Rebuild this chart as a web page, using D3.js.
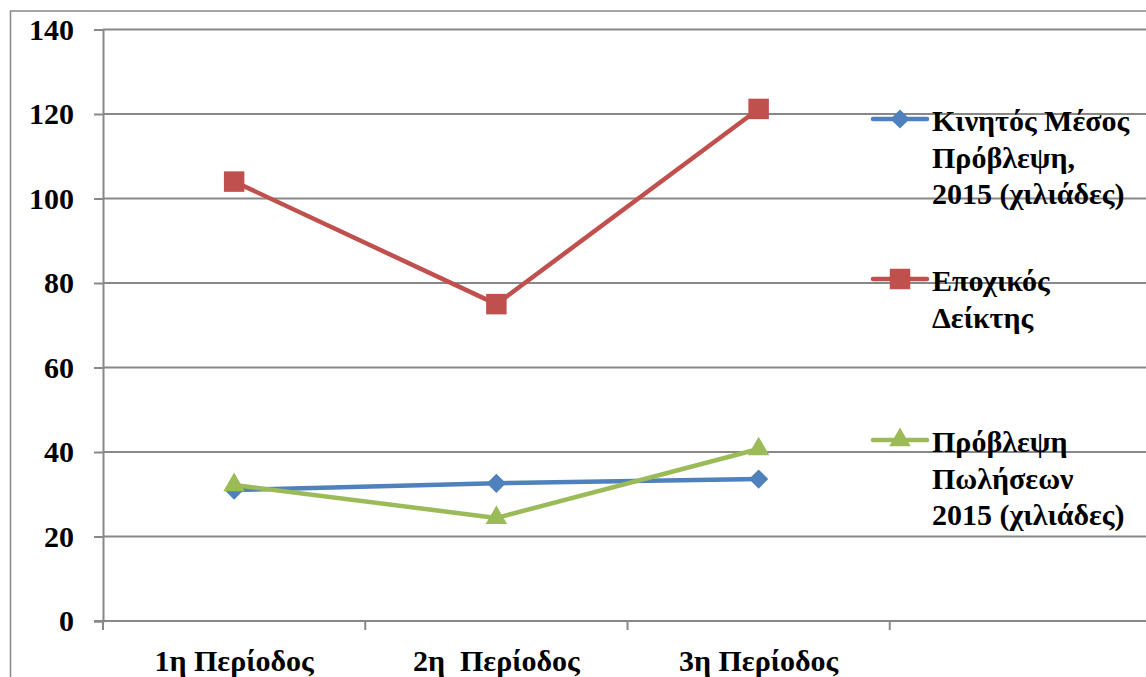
<!DOCTYPE html>
<html>
<head>
<meta charset="UTF-8">
<script src="https://d3js.org/d3.v7.min.js"></script>
<style>
  body { margin: 0; background: #fff; font-family: "Liberation Serif", "Times New Roman", serif; }
  #chart text { font-family: "Liberation Serif", "Times New Roman", serif; font-weight: bold; font-size: 30px; fill: #000; }
</style>
</head>
<body>
<svg width="1146" height="677" id="chart"></svg>
<script>
// categories (4th slot is empty, like the source chart)
const categories = ["1η Περίοδος", "2η  Περίοδος", "3η Περίοδος", ""];
const yTicks = [0, 20, 40, 60, 80, 100, 120, 140];

const movingAvg = [31.0, 32.6, 33.6];
const seasonalIdx = [104.0, 75.0, 121.2];
const salesForecast = [32.2, 24.4, 40.7];

const seriesNames = [
  ["Κινητός Μέσος", "Πρόβλεψη,", "2015 (χιλιάδες)"],
  ["Εποχικός", "Δείκτης"],
  ["Πρόβλεψη", "Πωλήσεων", "2015 (χιλιάδες)"]
];

const series = [
  { name: seriesNames[0], values: movingAvg, color: "#4F81BD", shape: "diamond" },
  { name: seriesNames[1], values: seasonalIdx, color: "#C0504D", shape: "square" },
  { name: seriesNames[2], values: salesForecast, color: "#9BBB59", shape: "triangle" }
];

const gridColor = "#888888";
const plotLeft = 103, plotTop = 29.5, plotBottom = 621, plotRight = 1152;

function draw() {
  const svg = d3.select("#chart");

  // outer chart border
  svg.append("rect")
    .attr("x", 10.5).attr("y", 11)
    .attr("width", 1200).attr("height", 700)
    .attr("fill", "none").attr("stroke", gridColor).attr("stroke-width", 1.5);

  const x = d3.scaleBand().domain(categories).range([plotLeft, plotRight]);
  const y = d3.scaleLinear().domain([0, 140]).range([plotBottom, plotTop]);

  // horizontal gridlines
  svg.append("g").selectAll("line")
    .data(yTicks.filter(d => d > 0))
    .enter().append("line")
    .attr("x1", plotLeft).attr("x2", plotRight)
    .attr("y1", d => y(d)).attr("y2", d => y(d))
    .attr("stroke", gridColor).attr("stroke-width", 2);

  // y axis
  const yAxis = svg.append("g")
    .attr("transform", "translate(" + plotLeft + ",0)")
    .call(d3.axisLeft(y).tickValues(yTicks).tickSize(9).tickPadding(20));
  yAxis.attr("font-family", null).attr("font-size", null);
  yAxis.select(".domain").attr("stroke", gridColor).attr("stroke-width", 2);
  yAxis.selectAll(".tick line").attr("stroke", gridColor).attr("stroke-width", 2);
  yAxis.selectAll(".tick text").attr("dy", "0.33em");

  // x axis with ticks between categories
  const xAxis = svg.append("g")
    .attr("transform", "translate(0," + plotBottom + ")");
  xAxis.append("line")
    .attr("x1", plotLeft - 9).attr("x2", plotRight)
    .attr("stroke", gridColor).attr("stroke-width", 2);
  xAxis.selectAll(".sep")
    .data(categories)
    .enter().append("line")
    .attr("x1", d => x(d)).attr("x2", d => x(d))
    .attr("y1", 0).attr("y2", 9)
    .attr("stroke", gridColor).attr("stroke-width", 2);
  xAxis.selectAll(".lbl")
    .data(categories)
    .enter().append("text")
    .attr("x", d => x(d) + x.bandwidth() / 2)
    .attr("y", 50)
    .attr("text-anchor", "middle")
    .style("white-space", "pre")
    .text(d => d);

  const symbolFor = {
    diamond: d3.symbol().type(d3.symbolSquare).size(185)(),
    square: d3.symbol().type(d3.symbolSquare).size(420)(),
    triangle: d3.symbol().type(d3.symbolTriangle).size(200)()
  };
  const rotFor = { diamond: 45, square: 0, triangle: 0 };

  const line = d3.line()
    .x((d, i) => x(categories[i]) + x.bandwidth() / 2)
    .y(d => y(d));

  series.forEach(function(s) {
    const g = svg.append("g");
    g.append("path")
      .attr("d", line(s.values))
      .attr("fill", "none")
      .attr("stroke", s.color)
      .attr("stroke-width", 4.5)
      .attr("stroke-linejoin", "round")
      .attr("stroke-linecap", "round");
    g.selectAll("path.pt")
      .data(s.values)
      .enter().append("path")
      .attr("class", "pt")
      .attr("d", symbolFor[s.shape])
      .attr("fill", s.color)
      .attr("transform", (d, i) => "translate(" + (x(categories[i]) + x.bandwidth() / 2) + "," + y(d) + ") rotate(" + rotFor[s.shape] + ")");
  });

  // legend
  const legendTops = [119, 279, 440];
  const legend = svg.append("g");
  series.forEach(function(s, k) {
    const ly = legendTops[k];
    legend.append("line")
      .attr("x1", 873).attr("x2", 927)
      .attr("y1", ly).attr("y2", ly)
      .attr("stroke", s.color).attr("stroke-width", 4.5)
      .attr("stroke-linecap", "round");
    legend.append("path")
      .attr("d", symbolFor[s.shape])
      .attr("fill", s.color)
      .attr("transform", "translate(900," + ly + ") rotate(" + rotFor[s.shape] + ")");
    s.name.forEach(function(t, j) {
      legend.append("text")
        .attr("x", 932)
        .attr("y", ly + 12 + j * 36.5)
        .text(t);
    });
  });
}

if (document.fonts && document.fonts.load) {
  document.fonts.load('bold 30px "Liberation Serif"').then(draw, draw);
} else {
  draw();
}
</script>
</body>
</html>
